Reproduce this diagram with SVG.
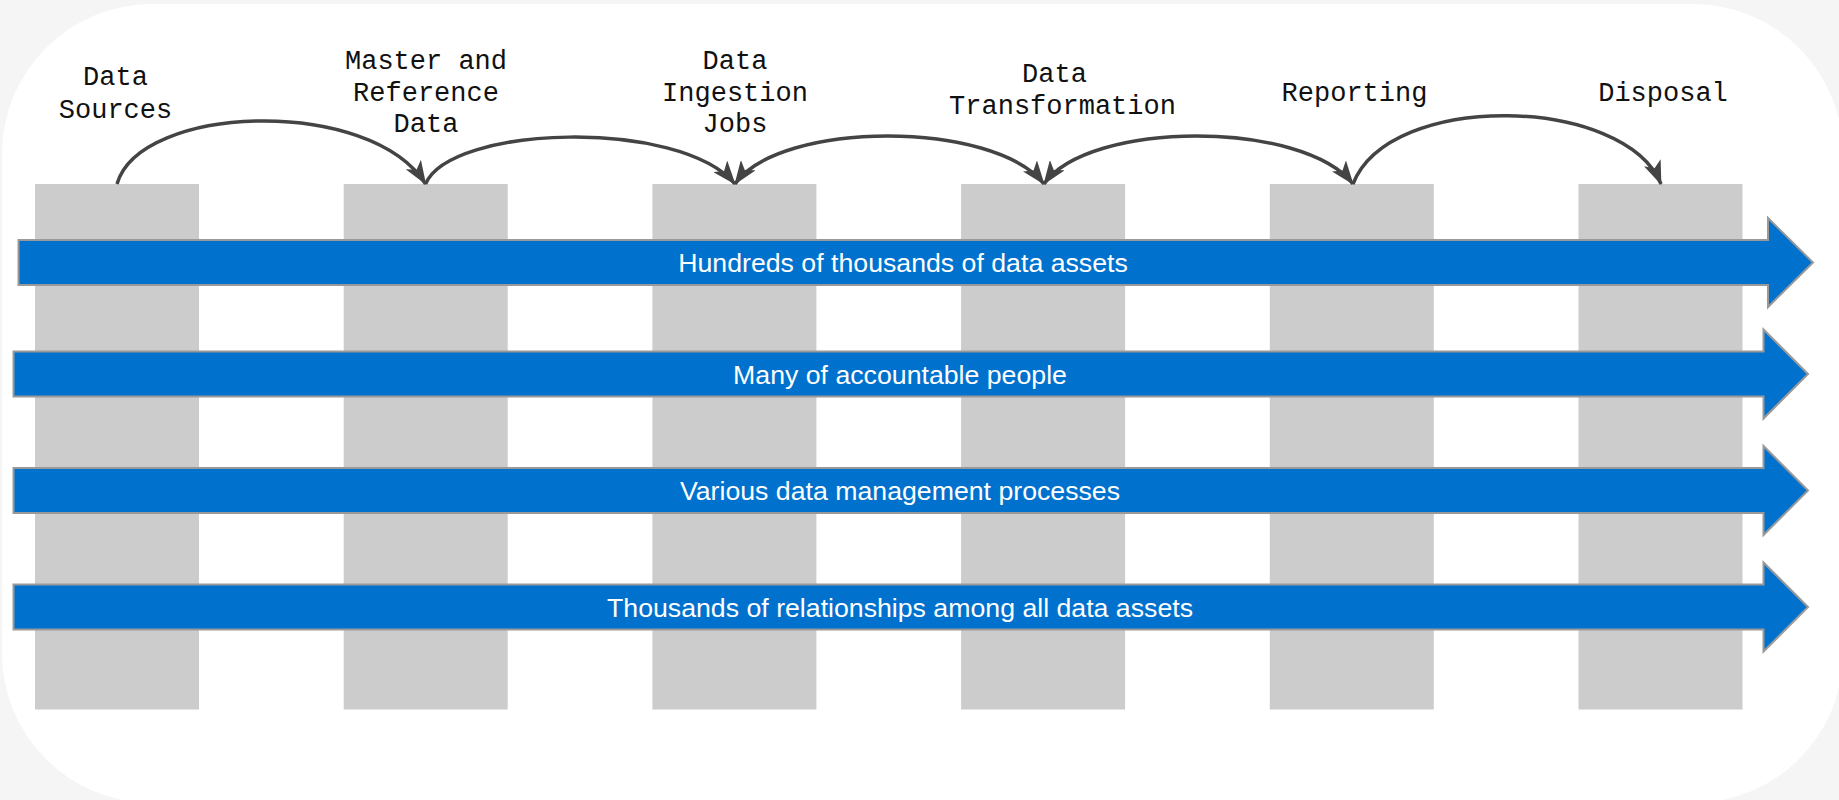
<svg xmlns="http://www.w3.org/2000/svg" width="1839" height="800" viewBox="0 0 1839 800">
  <style>
    .stage { fill: #cccccc; }
    .band { fill: #0072ce; stroke: #999999; stroke-width: 2; }
    .band-text { font-family: "Liberation Sans", Arial, sans-serif; font-size: 26.7px; fill: #ffffff; text-anchor: middle; }
    .label { font-family: "Liberation Mono", "DejaVu Sans Mono", monospace; font-size: 27px; fill: #111111; text-anchor: middle; }
    .edge { fill: none; stroke: #444444; stroke-width: 3.5; }
  </style>
  <defs>
    <marker id="arrow" viewBox="0 0 24 18" markerWidth="24" markerHeight="18" refX="23" refY="9" orient="auto-start-reverse" markerUnits="userSpaceOnUse">
      <path d="M0,0 L24,9 L0,18 L6,9 Z" fill="#444444"/>
    </marker>
  </defs>

  <rect x="0" y="0" width="1839" height="800" fill="#f5f5f5"/>
  <rect x="2" y="4" width="1841" height="799" rx="150" ry="150" fill="#ffffff"/>

  <g id="stage-data-sources"><rect class="stage" x="35" y="184" width="164" height="525.5"/></g>
  <g id="stage-master-reference"><rect class="stage" x="343.7" y="184" width="164" height="525.5"/></g>
  <g id="stage-ingestion"><rect class="stage" x="652.4" y="184" width="164" height="525.5"/></g>
  <g id="stage-transformation"><rect class="stage" x="961.1" y="184" width="164" height="525.5"/></g>
  <g id="stage-reporting"><rect class="stage" x="1269.8" y="184" width="164" height="525.5"/></g>
  <g id="stage-disposal"><rect class="stage" x="1578.5" y="184" width="164" height="525.5"/></g>

  <g id="band-assets">
    <polygon class="band" points="18.5,240 1768,240 1768,218 1813,262.5 1768,307 1768,285 18.5,285"/>
    <text class="band-text" x="903" y="272">Hundreds of thousands of data assets</text>
  </g>
  <g id="band-people">
    <polygon class="band" points="13.5,351.5 1763.5,351.5 1763.5,329.5 1808,374 1763.5,418.5 1763.5,396.5 13.5,396.5"/>
    <text class="band-text" x="900" y="383.5">Many of accountable people</text>
  </g>
  <g id="band-processes">
    <polygon class="band" points="13.5,468 1763.5,468 1763.5,446 1808,490.5 1763.5,535 1763.5,513 13.5,513"/>
    <text class="band-text" x="900" y="500">Various data management processes</text>
  </g>
  <g id="band-relationships">
    <polygon class="band" points="13.5,584.5 1763.5,584.5 1763.5,562.5 1808,607 1763.5,651.5 1763.5,629.5 13.5,629.5"/>
    <text class="band-text" x="900" y="616.5">Thousands of relationships among all data assets</text>
  </g>

  <g id="connectors">
    <path class="edge" d="M117,184 C140,104 370,96 425.6,184" marker-end="url(#arrow)"/>
    <path class="edge" d="M425.6,184 C450,125 680,118 735,184" marker-end="url(#arrow)"/>
    <path class="edge" d="M735,184 C780,120 994,120 1044,184" marker-start="url(#arrow)" marker-end="url(#arrow)"/>
    <path class="edge" d="M1044,184 C1089,120 1303,120 1353,184" marker-start="url(#arrow)" marker-end="url(#arrow)"/>
    <path class="edge" d="M1353,184 C1390,90 1625,96 1661,184" marker-end="url(#arrow)"/>
  </g>

  <g id="label-data-sources">
    <text class="label" x="115.5" y="85">Data</text>
    <text class="label" x="115.5" y="117.5">Sources</text>
  </g>
  <g id="label-master-reference">
    <text class="label" x="426" y="69.3">Master and</text>
    <text class="label" x="426" y="100.7">Reference</text>
    <text class="label" x="426" y="132.3">Data</text>
  </g>
  <g id="label-ingestion">
    <text class="label" x="735" y="69.3">Data</text>
    <text class="label" x="735" y="100.7">Ingestion</text>
    <text class="label" x="735" y="132.3">Jobs</text>
  </g>
  <g id="label-transformation">
    <text class="label" x="1054.5" y="81.7">Data</text>
    <text class="label" x="1062.5" y="114">Transformation</text>
  </g>
  <g id="label-reporting">
    <text class="label" x="1354.5" y="100.7">Reporting</text>
  </g>
  <g id="label-disposal">
    <text class="label" x="1663" y="100.7">Disposal</text>
  </g>
</svg>
